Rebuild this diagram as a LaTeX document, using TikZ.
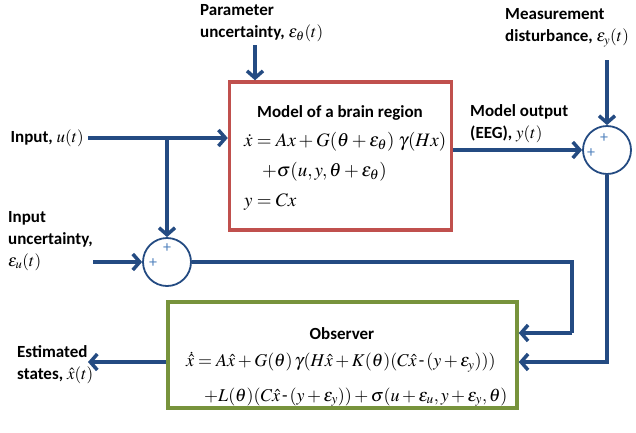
\documentclass[tikz,border=0pt]{standalone}
\usepackage{amsmath}
\usepackage{mathptmx}
\usepackage[no-math]{fontspec}
\setmainfont{Carlito}
\usetikzlibrary{arrows.meta,positioning,calc}
\definecolor{flowblue}{RGB}{36,75,130}
\definecolor{modelred}{RGB}{192,80,77}
\definecolor{obsgreen}{RGB}{119,147,60}
\definecolor{plusblue}{RGB}{79,129,189}

\begin{document}
\begin{tikzpicture}[x=1pt, y=-1pt,
    flow/.style={draw=flowblue, line width=3.5pt, -{Straight Barb[length=7pt,width=16pt]}},
    wire/.style={draw=flowblue, line width=3.5pt},
    lbl/.style={font=\fontsize{17}{22}\selectfont\bfseries, align=left, inner sep=0pt},
    eqn/.style={font=\fontsize{19}{22}\selectfont, inner sep=0pt, anchor=west},
    obseqn/.style={eqn, font=\fontsize{18}{22}\selectfont},
    ttl/.style={font=\fontsize{17}{20}\selectfont\bfseries, inner sep=0pt},
    summer/.style={circle, draw=flowblue, line width=1.8pt, fill=white, minimum size=48pt, inner sep=0pt},
    plus/.style={text=plusblue, font=\fontsize{16}{16}\selectfont, inner sep=0pt}]
   \useasboundingbox (0,0) rectangle (636,432);

   \node[draw=modelred, line width=3.5pt, minimum width=222pt, minimum height=148pt] (model) at (340.5,156) {};
   \node[draw=obsgreen, line width=3.5pt, minimum width=349pt, minimum height=106pt] (obs) at (342.5,355) {};
   \node[summer] (sumu) at (167,262) {};
   \node[summer] (sumy) at (607,150) {};

   \node[plus] (sumut) at (167,248) {+};
   \node[plus] (sumul) at (153,263) {+};
   \node[plus] (sumyt) at (604,138) {+};
   \node[plus] (sumyl) at (591,153) {+};

   \node[ttl] (modelttl) at (340,113) {Model of a brain region};
   \node[eqn] (modeleq1) at (244,142) {$\dot{x}=Ax+G(\theta+\varepsilon_\theta)\;\gamma(Hx)$};
   \node[eqn] (modeleq2) at (262,172) {$+\sigma(u,y,\theta+\varepsilon_\theta)$};
   \node[eqn] (modeleq3) at (244,202) {$y=Cx$};

   \node[ttl] (obsttl) at (342,334) {Observer};
   \node[obseqn] (obseq1) at (186,362) {$\dot{\hat{x}}=A\hat{x}+G(\theta)\,\gamma(H\hat{x}+K(\theta)(C\hat{x}\,\text{-}\,(y+\varepsilon_y)))$};
   \node[obseqn] (obseq2) at (204,397) {$+L(\theta)(C\hat{x}\,\text{-}\,(y+\varepsilon_y))+\sigma(u+\varepsilon_u,y+\varepsilon_y,\theta)$};

   \node[lbl, anchor=east] (inlbl) at (84,138) {Input, $u(t)$};
   \node[lbl, anchor=west] (eulbl) at (8,241) {Input\\uncertainty,\\$\varepsilon_u(t)$};
   \node[lbl, anchor=west] (eplbl) at (200,23) {Parameter\\uncertainty, $\varepsilon_\theta(t)$};
   \node[lbl, anchor=west] (eylbl) at (505,28) {Measurement\\disturbance, $\varepsilon_y(t)$};
   \node[lbl, anchor=west] (outlbl) at (470,124) {Model output\\(EEG), $y(t)$};
   \node[lbl, anchor=west] (estlbl) at (17,365) {Estimated\\states, $\hat{x}(t)$};

   \coordinate (inl) at (88,138);
   \coordinate (br) at (167,138);
   \coordinate (eul) at (93,262);
   \coordinate (ept) at (255,45);
   \coordinate (eyt) at (607,60);
   \coordinate (fb) at (572,333);
   \coordinate (est) at (88,362);

   \path[wire] (inl) -- (br);
   \path[flow] (br) -- (inl -| model.west);
   \path[flow] (br) -- (sumu.north);
   \path[flow] (eul) -- (sumu.west);
   \path[flow] (ept) -- (ept |- model.north);
   \path[flow] (eyt) -- (sumy.north);
   \path[flow] (model.east |- sumy.west) -- (sumy.west);
   \path[wire] (sumu.east) -| (fb);
   \path[flow] (fb) -- (fb -| obs.east);
   \path[flow] (sumy.south) |- ($(obs.east)+(0,7)$);
   \path[flow] (obs.west |- est) -- (est);
\end{tikzpicture}
\end{document}
